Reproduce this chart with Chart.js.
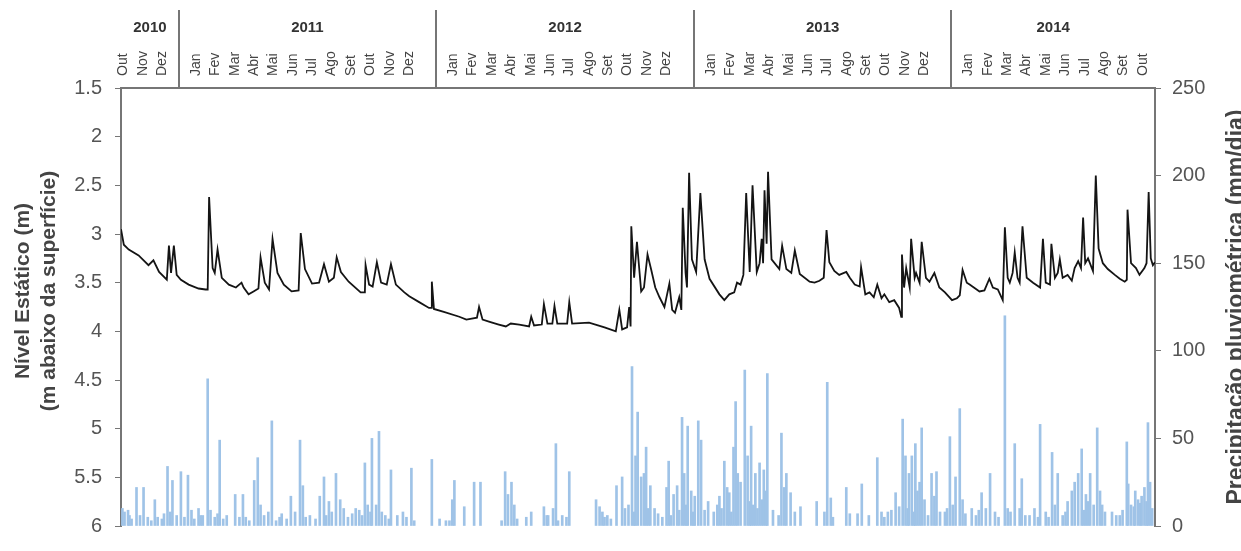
<!DOCTYPE html>
<html>
<head>
<meta charset="utf-8">
<script src="https://cdn.jsdelivr.net/npm/chart.js@4/dist/chart.umd.min.js"></script>
<style>
  html, body { margin: 0; padding: 0; background: #ffffff; }
  #wrap { width: 1241px; height: 551px; }
</style>
</head>
<body>
<div id="wrap"><canvas id="levelChart" width="1241" height="551"></canvas></div>
<script>
// day 0 = 11 Oct 2010, last day = 17 Oct 2014
const START_UTC = Date.UTC(2010, 9, 11);
const LAST_DAY = 1467;

const MONTH_NAMES = ["Jan", "Fev", "Mar", "Abr", "Mai", "Jun", "Jul", "Ago", "Set", "Out", "Nov", "Dez"];
const YEARS = [2010, 2011, 2012, 2013, 2014];

// static level (m below surface)
const LEVEL_DAYS = [0, 4, 11, 25, 39, 46, 54, 65, 68, 71, 75, 79, 85, 96, 110, 120, 123, 125, 130, 133, 137, 143, 153, 163, 171, 174, 181, 188, 195, 198, 204, 210, 215, 222, 231, 242, 252, 255, 261, 271, 281, 288, 295, 302, 306, 312, 323, 340, 346, 347, 352, 357, 363, 369, 377, 383, 390, 402, 409, 423, 437, 440, 441, 444, 458, 480, 490, 505, 508, 513, 522, 536, 546, 553, 565, 579, 582, 586, 597, 600, 605, 612, 615, 619, 633, 636, 640, 664, 686, 702, 707, 711, 718, 721, 723, 724, 728, 732, 738, 742, 747, 752, 758, 764, 771, 778, 782, 786, 792, 795, 797, 801, 803, 806, 810, 816, 822, 828, 835, 849, 856, 863, 870, 874, 879, 883, 887, 892, 896, 902, 906, 909, 911, 913, 916, 918, 923, 934, 938, 944, 951, 956, 963, 977, 984, 991, 997, 1001, 1005, 1012, 1019, 1029, 1034, 1041, 1048, 1050, 1056, 1062, 1068, 1073, 1079, 1083, 1090, 1097, 1104, 1107, 1108, 1111, 1114, 1119, 1121, 1126, 1128, 1133, 1136, 1142, 1147, 1154, 1161, 1169, 1179, 1186, 1190, 1194, 1200, 1204, 1218, 1225, 1232, 1237, 1244, 1251, 1254, 1258, 1261, 1265, 1268, 1272, 1275, 1279, 1285, 1294, 1304, 1308, 1312, 1318, 1320, 1325, 1329, 1332, 1336, 1343, 1349, 1353, 1358, 1362, 1365, 1368, 1372, 1379, 1383, 1387, 1393, 1400, 1410, 1417, 1424, 1427, 1428, 1433, 1440, 1445, 1452, 1455, 1458, 1461, 1464, 1467];
const LEVEL_M = [2.95, 3.11, 3.16, 3.22, 3.32, 3.27, 3.39, 3.47, 3.12, 3.40, 3.12, 3.42, 3.47, 3.52, 3.56, 3.57, 3.57, 2.62, 3.35, 3.40, 3.16, 3.45, 3.52, 3.55, 3.50, 3.55, 3.62, 3.59, 3.56, 3.24, 3.50, 3.57, 3.05, 3.40, 3.52, 3.59, 3.58, 2.99, 3.36, 3.51, 3.50, 3.31, 3.49, 3.45, 3.24, 3.39, 3.49, 3.60, 3.60, 3.32, 3.52, 3.54, 3.29, 3.50, 3.52, 3.31, 3.52, 3.60, 3.64, 3.70, 3.76, 3.76, 3.49, 3.77, 3.80, 3.85, 3.88, 3.86, 3.75, 3.88, 3.90, 3.93, 3.95, 3.92, 3.93, 3.95, 3.85, 3.94, 3.93, 3.72, 3.92, 3.92, 3.74, 3.92, 3.92, 3.70, 3.92, 3.91, 3.96, 4.00, 3.78, 3.98, 3.96, 3.75, 3.95, 2.92, 3.45, 3.08, 3.59, 3.55, 3.21, 3.36, 3.55, 3.65, 3.75, 3.51, 3.78, 3.81, 3.65, 3.78, 2.73, 3.40, 3.55, 2.37, 3.26, 3.39, 2.58, 3.26, 3.46, 3.62, 3.68, 3.62, 3.60, 3.50, 3.52, 3.42, 2.58, 3.39, 2.50, 3.39, 3.30, 3.05, 3.30, 2.55, 3.10, 2.36, 3.26, 3.36, 3.12, 3.36, 3.40, 3.17, 3.41, 3.49, 3.50, 3.48, 3.45, 2.96, 3.29, 3.38, 3.42, 3.39, 3.45, 3.52, 3.54, 3.34, 3.62, 3.60, 3.65, 3.52, 3.66, 3.62, 3.70, 3.68, 3.76, 3.85, 3.21, 3.55, 3.35, 3.55, 3.05, 3.45, 3.40, 3.50, 3.08, 3.45, 3.49, 3.40, 3.55, 3.60, 3.68, 3.66, 3.63, 3.37, 3.50, 3.52, 3.59, 3.58, 3.46, 3.55, 3.57, 3.68, 2.93, 3.45, 3.50, 3.40, 3.19, 3.45, 3.50, 2.92, 3.45, 3.50, 3.55, 3.05, 3.50, 3.52, 3.10, 3.45, 3.40, 3.26, 3.45, 3.42, 3.48, 3.35, 3.28, 3.35, 2.83, 3.30, 3.25, 3.38, 2.40, 3.15, 3.30, 3.36, 3.42, 3.46, 3.49, 3.47, 2.75, 3.30, 3.35, 3.42, 3.35, 3.30, 2.57, 3.25, 3.32, 3.29];

// daily rainfall (mm/day): the taller events
const RAIN_DAYS = [2, 5, 10, 12, 22, 32, 38, 48, 58, 66, 73, 79, 85, 95, 100, 110, 116, 123, 127, 133, 140, 162, 173, 177, 189, 194, 198, 203, 214, 220, 228, 241, 247, 254, 258, 262, 282, 288, 295, 299, 305, 311, 316, 333, 346, 350, 356, 362, 366, 370, 383, 392, 400, 412, 441, 461, 470, 473, 487, 501, 510, 545, 549, 554, 558, 582, 600, 606, 613, 617, 626, 636, 674, 679, 683, 686, 703, 711, 725, 730, 733, 738, 742, 745, 751, 757, 774, 777, 784, 789, 796, 799, 804, 809, 814, 819, 823, 841, 846, 849, 856, 860, 863, 869, 872, 875, 879, 885, 889, 894, 900, 906, 912, 917, 937, 941, 944, 950, 956, 964, 987, 998, 1002, 1007, 1029, 1034, 1051, 1073, 1079, 1083, 1088, 1099, 1109, 1113, 1118, 1122, 1127, 1130, 1133, 1136, 1140, 1150, 1154, 1157, 1169, 1176, 1180, 1184, 1190, 1194, 1207, 1213, 1221, 1227, 1233, 1240, 1254, 1258, 1268, 1275, 1278, 1289, 1301, 1304, 1312, 1321, 1325, 1329, 1336, 1343, 1349, 1353, 1358, 1363, 1369, 1375, 1380, 1385, 1389, 1396, 1406, 1417, 1427, 1429, 1433, 1439, 1443, 1448, 1452, 1457, 1460, 1463];
const RAIN_MM = [10, 8, 9, 6, 22, 22, 5, 15, 4, 34, 26, 6, 31, 29, 9, 10, 6, 84, 9, 5, 49, 18, 18, 5, 26, 39, 12, 6, 60, 3, 7, 17, 8, 49, 23, 5, 17, 28, 14, 8, 30, 15, 10, 10, 36, 12, 50, 12, 54, 8, 32, 6, 8, 33, 38, 3, 15, 26, 11, 25, 25, 31, 18, 25, 12, 8, 11, 6, 10, 47, 6, 31, 15, 11, 8, 5, 23, 28, 91, 40, 65, 28, 30, 45, 23, 10, 22, 37, 18, 23, 62, 30, 57, 20, 17, 60, 49, 8, 12, 17, 37, 22, 19, 45, 71, 30, 25, 89, 40, 57, 30, 36, 32, 87, 53, 22, 30, 19, 8, 11, 14, 8, 82, 16, 22, 7, 24, 39, 8, 5, 8, 19, 61, 40, 30, 40, 47, 20, 25, 56, 15, 30, 17, 31, 8, 51, 12, 28, 67, 15, 10, 6, 19, 10, 30, 8, 120, 10, 47, 10, 27, 6, 5, 58, 8, 42, 12, 30, 6, 14, 20, 25, 30, 44, 18, 30, 12, 56, 20, 8, 8, 6, 48, 24, 12, 20, 15, 17, 22, 59, 25, 10];

// the many small showers that fill the base of the rain bars
const DRIZZLE_DAYS = [15, 27, 43, 52, 61, 70, 90, 104, 113, 137, 145, 150, 168, 182, 209, 225, 235, 268, 276, 291, 322, 328, 338, 342, 354, 375, 380, 405, 416, 452, 466, 540, 562, 575, 604, 620, 632, 690, 695, 715, 720, 728, 748, 762, 768, 780, 792, 802, 812, 828, 833, 852, 866, 892, 897, 903, 909, 915, 925, 933, 1010, 1045, 1061, 1093, 1104, 1116, 1125, 1145, 1162, 1172, 1198, 1217, 1245, 1262, 1283, 1296, 1316, 1340, 1366, 1372, 1392, 1412, 1421, 1437, 1446, 1455];
const DRIZZLE_MM = [4, 6, 3, 5, 7, 8, 5, 4, 6, 7, 4, 6, 5, 3, 8, 5, 4, 6, 4, 6, 5, 7, 9, 6, 8, 6, 4, 5, 3, 4, 3, 3, 4, 5, 6, 3, 5, 6, 4, 10, 12, 8, 10, 7, 5, 6, 9, 12, 8, 9, 14, 10, 8, 14, 12, 10, 15, 20, 9, 6, 5, 7, 6, 9, 11, 10, 8, 6, 8, 10, 7, 9, 5, 8, 6, 10, 5, 8, 9, 14, 12, 6, 9, 11, 13, 14];

const LEFT_TITLE = ["Nível Estático (m)", "(m abaixo da superfície)"];
const RIGHT_TITLE = "Precipitação pluviométrica (mm/dia)";

const AXIS_GREY = "#767676";
const TEXT_GREY = "#555555";
const FONT = "'Liberation Sans', Arial, sans-serif";

function dayOf(year, month, date) {
  return (Date.UTC(year, month, date) - START_UTC) / 86400000;
}

// month labels are spread evenly inside each year box; the short first
// year is lined up against its right-hand separator
const LABEL_INSET = 24;
const LABEL_STEP = 27.5;
const monthTicks = [];
for (let y = 2010, m = 9; y < 2014 || m <= 9; ) {
  const value = y === YEARS[0]
    ? dayOf(y + 1, 0, 1) - LABEL_INSET - (11 - m) * LABEL_STEP
    : dayOf(y, 0, 1) + LABEL_INSET + m * LABEL_STEP;
  monthTicks.push({ value, label: MONTH_NAMES[m] });
  m++;
  if (m > 11) { m = 0; y++; }
}
const monthLabelByValue = new Map(monthTicks.map(t => [t.value, t.label]));

const rainPoints = RAIN_DAYS.map((d, i) => ({ x: d, y: RAIN_MM[i] }))
  .concat(DRIZZLE_DAYS.map((d, i) => ({ x: d, y: DRIZZLE_MM[i] })))
  .sort((a, b) => a.x - b.x);

const yearHeader = {
  id: "yearHeader",
  afterDraw(chart) {
    const { ctx, chartArea, scales } = chart;
    const x = scales.x;
    const bounds = YEARS.slice(1).map(y => dayOf(y, 0, 1));
    const edges = [0].concat(bounds, [LAST_DAY]);

    ctx.save();
    ctx.strokeStyle = AXIS_GREY;
    ctx.lineWidth = 2;
    bounds.forEach(d => {
      const px = Math.round(x.getPixelForValue(d));
      ctx.beginPath();
      ctx.moveTo(px, 10);
      ctx.lineTo(px, chartArea.top);
      ctx.stroke();
    });

    ctx.fillStyle = "#333333";
    ctx.font = "bold 15px " + FONT;
    ctx.textAlign = "center";
    ctx.textBaseline = "middle";
    YEARS.forEach((year, i) => {
      const cx = (x.getPixelForValue(edges[i]) + x.getPixelForValue(edges[i + 1])) / 2;
      ctx.fillText(String(year), cx, 28);
    });
    ctx.restore();
  }
};

const axisTitles = {
  id: "axisTitles",
  afterDraw(chart) {
    const { ctx } = chart;
    ctx.save();
    ctx.fillStyle = "#444444";
    ctx.textAlign = "center";
    ctx.textBaseline = "middle";

    ctx.font = "bold 21px " + FONT;
    [[23, LEFT_TITLE[0]], [49, LEFT_TITLE[1]]].forEach(([cx, text]) => {
      ctx.save();
      ctx.translate(cx, 291);
      ctx.rotate(-Math.PI / 2);
      ctx.fillText(text, 0, 0);
      ctx.restore();
    });

    ctx.font = "bold 23px " + FONT;
    ctx.translate(1237, 307);
    ctx.rotate(-Math.PI / 2);
    ctx.fillText(RIGHT_TITLE, 0, 0);
    ctx.restore();
  }
};

const ctx = document.getElementById("levelChart").getContext("2d");

new Chart(ctx, {
  type: "line",
  data: {
    datasets: [
      {
        type: "line",
        label: "Nível estático",
        data: LEVEL_DAYS.map((d, i) => ({ x: d, y: LEVEL_M[i] })),
        xAxisID: "x",
        yAxisID: "y",
        borderColor: "#141414",
        borderWidth: 1.8,
        pointRadius: 0,
        tension: 0,
        order: 0
      },
      {
        type: "bar",
        label: "Precipitação",
        data: rainPoints,
        xAxisID: "x",
        yAxisID: "y1",
        backgroundColor: "#9fc3e7",
        borderWidth: 0,
        barThickness: 2,
        order: 1
      }
    ]
  },
  options: {
    responsive: false,
    animation: false,
    layout: { padding: { top: 0, left: 0, right: 0, bottom: 6 } },
    plugins: {
      legend: { display: false },
      tooltip: { enabled: false }
    },
    scales: {
      x: {
        type: "linear",
        position: "bottom",
        min: 0,
        max: LAST_DAY,
        offset: false,
        display: false
      },
      xTop: {
        type: "linear",
        position: "top",
        min: 0,
        max: LAST_DAY,
        offset: false,
        afterBuildTicks: axis => {
          axis.ticks = monthTicks.map(t => ({ value: t.value }));
        },
        afterFit: axis => {
          axis.height = 88;
        },
        grid: { display: false, drawTicks: false },
        border: { display: true, color: AXIS_GREY, width: 2 },
        ticks: {
          autoSkip: false,
          minRotation: 90,
          maxRotation: 90,
          padding: 12,
          labelOffset: 17,
          color: "#444444",
          font: { family: FONT, size: 14 },
          callback: value => monthLabelByValue.get(value) || ""
        }
      },
      y: {
        type: "linear",
        position: "left",
        reverse: true,
        min: 1.5,
        max: 6,
        afterFit: axis => {
          axis.width = 121;
        },
        grid: {
          drawOnChartArea: false,
          drawTicks: true,
          tickLength: 6,
          color: AXIS_GREY
        },
        border: { display: true, color: AXIS_GREY, width: 2 },
        ticks: {
          stepSize: 0.5,
          padding: 13,
          color: TEXT_GREY,
          font: { family: FONT, size: 20 },
          callback: value => String(value)
        }
      },
      y1: {
        type: "linear",
        position: "right",
        min: 0,
        max: 250,
        afterFit: axis => {
          axis.width = 86;
        },
        grid: {
          drawOnChartArea: false,
          drawTicks: true,
          tickLength: 6,
          color: AXIS_GREY
        },
        border: { display: true, color: AXIS_GREY, width: 2 },
        ticks: {
          stepSize: 50,
          padding: 11,
          color: TEXT_GREY,
          font: { family: FONT, size: 20 }
        }
      }
    }
  },
  plugins: [yearHeader, axisTitles]
});
</script>
</body>
</html>
